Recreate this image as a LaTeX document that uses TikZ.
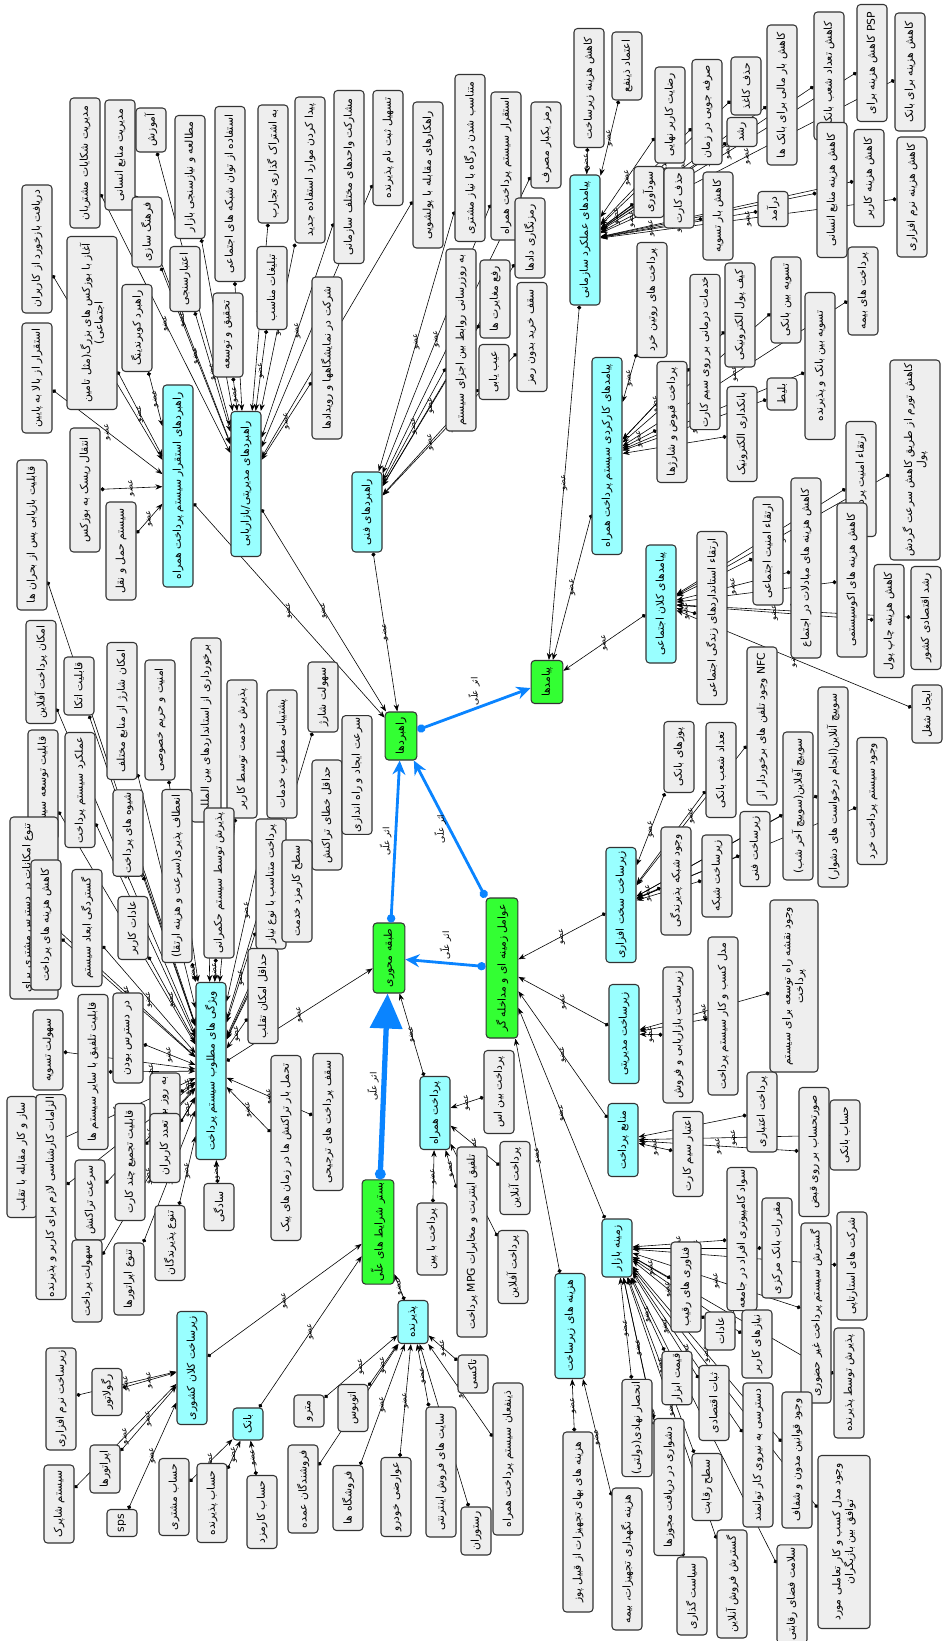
\documentclass[tikz,border=0pt]{standalone}
\usepackage{fontspec}
\newfontfamily\fafont[Script=Arabic]{DejaVu Sans}
\TeXXeTstate=1
\usetikzlibrary{arrows.meta}
\definecolor{boxgray}{HTML}{EEEEEE}
\definecolor{catcyan}{HTML}{99FFFF}
\definecolor{coregreen}{HTML}{33FF33}
\definecolor{causeblue}{HTML}{0A84FF}
\pgfdeclarelayer{bg}
\pgfsetlayers{bg,main}
\newcommand{\fa}[1]{\beginR #1\endR}
\newcommand{\ozv}{\fa{عضو}}
\newcommand{\asar}{\fa{اثر علّی}}
\tikzset{
  base/.style={rotate=90, draw=black!80, line width=0.9pt, rounded corners=3pt,
    font=\fafont\fontsize{9.2}{11}\selectfont, inner sep=2pt, minimum height=0.9cm, align=center},
  gry/.style={base, fill=boxgray},
  cyn/.style={base, fill=catcyan},
  grn/.style={base, fill=coregreen, minimum height=0.95cm},
  bl/.style={minimum width=#1*0.03cm},
  bh/.style={minimum height=#1*0.03cm},
  mem/.style={draw=black, line width=0.5pt, {Circle[length=3.5pt]}-{Stealth[length=6pt,width=4.5pt]}},
  lab/.style={font=\fafont\fontsize{7}{8}\selectfont, rotate=90, inner sep=0.5pt},
  cause/.style={draw=causeblue, line width=2.4pt, {Circle[length=7pt]}-{Stealth[length=12pt,width=11pt]}},
  bigcause/.style={draw=causeblue, line width=4.5pt, {Circle[length=9pt]}-{Triangle[length=1.05cm,width=0.95cm]}},
  clab/.style={font=\fafont\fontsize{7.5}{8}\selectfont, rotate=90, inner sep=2pt},
}
\begin{document}
\begin{tikzpicture}[x=0.03cm, y=-0.03cm]
  \useasboundingbox (0,0) rectangle (943,1641);

  % core categories
  \node[grn, bl=43] (outcomes) at (547,682) {\fa{پیامدها}};
  \node[grn, bl=48] (strategies) at (401,736) {\fa{راهبردها}};
  \node[grn, bl=70] (core) at (389,958) {\fa{طبقه محوری}};
  \node[grn, bl=140] (context) at (502,968) {\fa{عوامل زمینه ای و مداخله گر}};
  \node[grn, bl=101] (causal) at (378,1232) {\fa{بستر شرایط های علّی}};

  % sub categories
  \node[cyn, bl=130] (pOrg) at (585,240) {\fa{پیامدهای عملکرد سازمانی}};
  \node[cyn, bl=197] (pFun) at (607,456) {\fa{پیامدهای کارکردی سیستم پرداخت همراه}};
  \node[cyn, bl=118] (pSoc) at (661,604) {\fa{پیامدهای کلان اجتماعی}};
  \node[cyn, bl=80] (sTec) at (367,512) {\fa{راهبردهای فنی}};
  \node[cyn, bl=145] (sMng) at (246,484) {\fa{راهبردهای مدیریتی/بازاریابی}};
  \node[cyn, bl=202] (sDep) at (178,486) {\fa{راهبردهای استقرار سیستم پرداخت همراه}};
  \node[cyn, bl=177] (feat) at (211,1071) {\fa{ویژگی های مطلوب سیستم پرداخت}};
  \node[cyn, bl=73] (mob) at (435,1113) {\fa{پرداخت همراه}};
  \node[cyn, bl=43] (acc) at (413,1322) {\fa{پذیرنده}};
  \node[cyn, bl=113] (nat) at (192,1368) {\fa{زیرساخت کلان کشوری}};
  \node[cyn, bl=32] (bank) at (248,1424) {\fa{بانک}};
  \node[cyn, bl=105] (cost) at (570,1326) {\fa{هزینه های زیرساخت}};
  \node[cyn, bl=58] (mkt) at (617,1248) {\fa{زمینه بازار}};
  \node[cyn, bl=73] (src) at (623,1140) {\fa{منابع پرداخت}};
  \node[cyn, bl=99] (adm) at (624,1034) {\fa{زیرساخت مدیریتی}};
  \node[cyn, bl=115] (hw) at (621,905) {\fa{زیرساخت سخت افزاری}};

  % organisational outcomes
  \node[gry, bl=119] (org1) at (589,88) {\fa{کاهش هزینه زیرساخت}};
  \node[gry, bl=68] (org2) at (627,66) {\fa{اعتماد ذینفع}};
  \node[gry, bl=96] (org3) at (670,115) {\fa{رضایت کاربر نهایی}};
  \node[gry, bl=105] (org4) at (707,112) {\fa{صرفه جویی در زمان}};
  \node[gry, bl=58] (org5) at (746,86) {\fa{حذف کاغذ}};
  \node[gry, bl=29] (org6) at (742,132) {\fa{رشد}};
  \node[gry, bl=140] (org7) at (782,95) {\fa{کاهش بار مالی برای بانک ها}};
  \node[gry, bl=128] (org8) at (829,76) {\fa{کاهش تعداد شعب بانکی}};
  \node[gry, bl=117] (org9) at (872,63) {\fa{\beginL PSP\endL{} کاهش هزینه برای}};
  \node[gry, bl=118] (org10) at (910,72) {\fa{کاهش هزینه برای بانک}};
  \node[gry, bl=51] (org11) at (649,192) {\fa{سودآوری}};
  \node[gry, bl=60] (org12) at (679,198) {\fa{حذف کارت}};
  \node[gry, bl=88] (org13) at (718,216) {\fa{کاهش بار تسویه}};
  \node[gry, bl=35] (org14) at (773,209) {\fa{درآمد}};
  \node[gry, bl=135] (org15) at (832,190) {\fa{کاهش هزینه منابع انسانی}};
  \node[gry, bl=97] (org16) at (869,178) {\fa{کاهش هزینه کاربر}};
  \node[gry, bl=120] (org17) at (912,197) {\fa{کاهش هزینه نرم افزاری}};

  % functional outcomes
  \node[gry, bl=115] (fun1) at (652,300) {\fa{پرداخت های روتین خرد}};
  \node[gry, bl=155] (fun2) at (705,352) {\fa{خدمات درمانی بر روی سیم کارت}};
  \node[gry, bl=104] (fun3) at (740,315) {\fa{کیف پول الکترونیکی}};
  \node[gry, bl=86] (fun4) at (786,300) {\fa{تسویه بین بانکی}};
  \node[gry, bl=147] (fun5) at (820,366) {\fa{تسویه بین بانک و پذیرنده}};
  \node[gry, bl=88] (fun6) at (863,291) {\fa{پرداخت های بیمه}};
  \node[gry, bl=121] (fun7) at (672,422) {\fa{پرداخت قبوض و شارژها}};
  \node[gry, bl=95] (fun8) at (742,434) {\fa{بانکداری الکترونیک}};
  \node[gry, bl=32] (fun9) at (782,394) {\fa{بلیط}};

  % social outcomes
  \node[gry, bl=173] (soc1) at (712,618) {\fa{ارتقاء استانداردهای زندگی اجتماعی}};
  \node[gry, bl=108] (soc2) at (768,551) {\fa{ارتقاء امنیت اجتماعی}};
  \node[gry, bl=115] (soc4) at (861,479) {\fa{ارتقاء امنیت پرداخت}};
  \node[gry, bl=180] (soc3) at (806,568) {\fa{کاهش هزینه های مبادلات در اجتماع}};
  \node[gry, bl=154] (soc5) at (852,580) {\fa{کاهش هزینه های اکوسیستمی}};
  \node[gry, bl=113] (soc6) at (889,621) {\fa{کاهش هزینه چاپ پول}};
  \node[gry, bl=103] (soc7) at (926,618) {\fa{رشد اقتصادی کشور}};
  \node[gry, bl=58] (soc8) at (927,714) {\fa{ایجاد شغل}};
  \node[gry, bl=200, bh=50] (soc9) at (915,460) {\fa{کاهش تورم از طریق کاهش سرعت گردش}\\\fa{پول}};

  % technical strategies
  \node[gry, bl=167] (tec1) at (470,158) {\fa{متناسب شدن درگاه با نیاز مشتری}};
  \node[gry, bl=148] (tec2) at (506,166) {\fa{استقرار سیستم پرداخت همراه}};
  \node[gry, bl=86] (tec3) at (546,145) {\fa{رمز یکبار مصرف}};
  \node[gry, bl=80] (tec4) at (530,238) {\fa{رمزنگاری دادها}};
  \node[gry, bl=78] (tec5) at (495,299) {\fa{رفع مغایرت ها}};
  \node[gry, bl=109] (tec6) at (532,337) {\fa{سقف خرید بدون رمز}};
  \node[gry, bl=55] (tec7) at (494,372) {\fa{عیب یابی}};
  \node[gry, bl=182] (tec8) at (461,340) {\fa{به روزرسانی روابط بین اجزای سیستم}};

  % management strategies
  \node[gry, bl=130] (mng1) at (85,163) {\fa{مدیریت شکایات مشتریان}};
  \node[gry, bl=110] (mng2) at (120,155) {\fa{مدیریت منابع انسانی}};
  \node[gry, bl=44] (mng3) at (151,130) {\fa{آموزش}};
  \node[gry, bl=123] (mng4) at (190,177) {\fa{مطالعه و نیازسنجی بازار}};
  \node[gry, bl=175] (mng5) at (230,194) {\fa{استفاده از توان شبکه های اجتماعی}};
  \node[gry, bl=118] (mng6) at (273,164) {\fa{به اشتراک گذاری تجارب}};
  \node[gry, bl=146] (mng7) at (310,170) {\fa{پیدا کردن موارد استفاده جدید}};
  \node[gry, bl=70] (mng8) at (147,232) {\fa{فرهنگ سازی}};
  \node[gry, bl=65] (mng9) at (185,279) {\fa{اعتبارسنجی}};
  \node[gry, bl=84] (mng10) at (228,335) {\fa{تحقیق و توسعه}};
  \node[gry, bl=83] (mng11) at (272,288) {\fa{تبلیغات مناسب}};
  \node[gry, bl=162] (mng12) at (327,358) {\fa{شرکت در نمایشگاهها و رویدادها}};
  \node[gry, bl=173] (mng13) at (349,177) {\fa{مشارکت واحدهای مختلف سازمانی}};
  \node[gry, bl=115] (mng14) at (388,148) {\fa{تسهیل ثبت نام پذیرنده}};
  \node[gry, bl=146] (mng15) at (428,175) {\fa{راهکارهای مقابله با پولشویی}};

  % deployment strategies
  \node[gry, bl=128] (dep1) at (37,249) {\fa{دریافت بازخورد از کاربران}};
  \node[gry, bl=110] (dep2) at (37,378) {\fa{استقرار از بالا به پایین}};
  \node[gry, bl=87] (dep3) at (137,328) {\fa{راهبرد کوبرندینگ}};
  \node[gry, bl=173, bh=50] (dep4) at (92,323) {\fa{آغاز با بوزکس های بزرگ(مثل تامین}\\\fa{اجتماعی)}};
  \node[gry, bl=124] (dep5) at (85,490) {\fa{انتقال ریسک به بوزکس}};
  \node[gry, bl=98] (dep6) at (121,551) {\fa{سیستم حمل و نقل}};

  % desired features
  \node[gry, bl=150] (feat1) at (32,535) {\fa{قابلیت بازیابی پس از بحران ها}};
  \node[gry, bl=103] (feat2) at (41,672) {\fa{امکان پرداخت آفلاین}};
  \node[gry, bl=58] (feat3) at (79,686) {\fa{قابلیت اتکا}};
  \node[gry, bl=137] (feat4) at (122,711) {\fa{امکان شارژ از منابع مختلف}};
  \node[gry, bl=120] (feat5) at (160,720) {\fa{امنیت و حریم خصوصی}};
  \node[gry, bl=184] (feat6) at (206,730) {\fa{برخورداری از استانداردهای بین المللی}};
  \node[gry, bl=138] (feat7) at (242,749) {\fa{پذیرش خدمت توسط کاربر}};
  \node[gry, bl=128] (feat8) at (282,754) {\fa{پشتیبانی مطلوب خدمات}};
  \node[gry, bl=70] (feat9) at (323,697) {\fa{سهولت شارژ}};
  \node[gry, bl=110] (feat11) at (327,815) {\fa{حداقل خطای تراکنش}};
  \node[gry, bl=110] (feat10) at (357,775) {\fa{سرعت ایجاد و راه اندازی}};
  \node[gry, bl=110] (feat12) at (43,785) {\fa{قابلیت توسعه سیستم}};
  \node[gry, bl=115] (feat13) at (80,790) {\fa{عملکرد سیستم پرداخت}};
  \node[gry, bl=83] (feat14) at (128,833) {\fa{شیوه های پرداخت}};
  \node[gry, bl=173] (feat15) at (177,876) {\fa{انعطاف پذیری(سرعت و هزینه ارتقا)}};
  \node[gry, bl=150] (feat16) at (219,883) {\fa{پذیرش توسط سیستم حکمرانی}};
  \node[gry, bl=130] (feat17) at (271,884) {\fa{پرداخت متناسب با نوع نیاز}};
  \node[gry, bl=102] (feat18) at (297,891) {\fa{سطح کارمزد خدمت}};
  \node[gry, bl=95] (feat19) at (263,996) {\fa{حداقل امکان تقلب}};
  \node[gry, bl=182, bh=48] (feat20) at (34,908) {\fa{تنوع امکانات در دسترس مشتری برای}\\\fa{پرداخت}};
  \node[gry, bl=130] (feat21) at (46,925) {\fa{کاهش هزینه های پرداخت}};
  \node[gry, bl=117] (feat22) at (87,928) {\fa{گستردگی ابعاد سیستم}};
  \node[gry, bl=63] (feat23) at (133,928) {\fa{عادات کاربر}};
  \node[gry, bl=80] (feat24) at (48,1050) {\fa{سهولت تسویه}};
  \node[gry, bl=155] (feat25) at (93,1072) {\fa{قابلیت تلفیق با سایر سیستم ها}};
  \node[gry, bl=90] (feat26) at (128,1038) {\fa{در دسترس بودن}};
  \node[gry, bl=121] (feat27) at (22,1157) {\fa{ساز و کار مقابله با تقلب}};
  \node[gry, bl=180] (feat28) at (51,1197) {\fa{الزامات کارشناسی لازم برای کاربر و پذیرنده}};
  \node[gry, bl=80] (feat29) at (90,1200) {\fa{سرعت تراکنش}};
  \node[gry, bl=117] (feat30) at (130,1162) {\fa{قابلیت تجمیع چند کارت}};
  \node[gry, bl=60] (feat31) at (165,1103) {\fa{به روز بودن}};
  \node[gry, bl=69] (feat32) at (165,1148) {\fa{تعدد کاربران}};
  \node[gry, bl=47] (feat33) at (219,1207) {\fa{سادگی}};
  \node[gry, bl=185] (feat34) at (286,1148) {\fa{تحمل بار تراکنش ها در زمان های پیک}};
  \node[gry, bl=137] (feat35) at (328,1122) {\fa{سقف پرداخت های ترجیحی}};
  \node[gry, bl=82] (feat36) at (87,1281) {\fa{سهولت پرداخت}};
  \node[gry, bl=72] (feat37) at (129,1279) {\fa{تنوع اپراتورها}};
  \node[gry, bl=75] (feat38) at (170,1243) {\fa{تنوع پذیرندگان}};

  % mobile payment
  \node[gry, bl=83] (mob1) at (499,1092) {\fa{پرداخت بین اس}};
  \node[gry, bl=190] (mob2) at (472,1242) {\fa{تلفیق اینترنت و مخابرات \beginL MPG\endL{} پرداخت}};
  \node[gry, bl=73] (mob3) at (515,1178) {\fa{پرداخت آنلاین}};
  \node[gry, bl=72] (mob4) at (432,1239) {\fa{پرداخت با پین}};
  \node[gry, bl=73] (mob5) at (513,1267) {\fa{پرداخت آفلاین}};

  % acceptors
  \node[gry, bl=32] (acc1) at (309,1411) {\fa{مترو}};
  \node[gry, bl=47] (acc2) at (353,1408) {\fa{اتوبوس}};
  \node[gry, bl=88] (acc3) at (303,1489) {\fa{فروشندگان عمده}};
  \node[gry, bl=65] (acc4) at (348,1498) {\fa{فروشگاه ها}};
  \node[gry, bl=79] (acc5) at (396,1497) {\fa{عوارضی خودرو}};
  \node[gry, bl=130] (acc6) at (441,1472) {\fa{سایت های فروش اینترنتی}};
  \node[gry, bl=48] (acc7) at (476,1531) {\fa{رستوران}};
  \node[gry, bl=152] (acc8) at (508,1459) {\fa{ذینفعان سیستم پرداخت همراه}};
  \node[gry, bl=38] (acc9) at (473,1374) {\fa{تاکسی}};

  % national infrastructure
  \node[gry, bl=47] (nat1) at (107,1392) {\fa{رگولاتور}};
  \node[gry, bl=102] (nat2) at (61,1399) {\fa{زیرساخت نرم افزاری}};
  \node[gry, bl=48] (nat3) at (105,1469) {\fa{اپراتورها}};
  \node[gry, bl=78] (nat4) at (59,1504) {\fa{سیستم شاپرک}};
  \node[gry, bl=27] (nat5) at (122,1523) {sps};

  % bank
  \node[gry, bl=77] (bank1) at (174,1497) {\fa{حساب مشتری}};
  \node[gry, bl=79] (bank2) at (212,1503) {\fa{حساب پذیرنده}};
  \node[gry, bl=73] (bank3) at (262,1512) {\fa{حساب کارمزد}};

  % infrastructure costs
  \node[gry, bl=180] (cost1) at (578,1522) {\fa{هزینه های بهای تجهیزات از قبیل پوز}};
  \node[gry, bl=142] (cost2) at (627,1559) {\fa{هزینه نگهداری تجهیزات، بیمه}};

  % market context
  \node[gry, bl=138] (mkt1) at (742,1239) {\fa{سواد کامپیوتری افراد در جامعه}};
  \node[gry, bl=100] (mkt2) at (777,1248) {\fa{مقررات بانک مرکزی}};
  \node[gry, bl=180] (mkt3) at (816,1313) {\fa{گسترش سیستم پرداخت غیر حضوری}};
  \node[gry, bl=108] (mkt4) at (852,1266) {\fa{شرکت های استارتاپی}};
  \node[gry, bl=90] (mkt5) at (686,1287) {\fa{فناوری های رقیب}};
  \node[gry, bl=38] (mkt6) at (720,1331) {\fa{عادات}};
  \node[gry, bl=68] (mkt7) at (757,1344) {\fa{نیازهای کاربر}};
  \node[gry, bl=110] (mkt8) at (849,1383) {\fa{پذیرش توسط پذیرنده}};
  \node[gry, bl=51] (mkt9) at (677,1378) {\fa{قیمت ابزار}};
  \node[gry, bl=75] (mkt10) at (714,1403) {\fa{ثبات اقتصادی}};
  \node[gry, bl=144] (mkt11) at (758,1455) {\fa{دسترسی به نیروی کار توانمند}};
  \node[gry, bl=136] (mkt12) at (797,1460) {\fa{وجود قوانین مدون و شفاف}};
  \node[gry, bl=173, bh=52] (mkt13) at (844,1542) {\fa{وجود مدل کسب و کار تعاملی مورد}\\\fa{توافق بین بازیگران}};
  \node[gry, bl=97] (mkt14) at (637,1428) {\fa{انحصار نهادی(دولتی)}};
  \node[gry, bl=137] (mkt15) at (669,1487) {\fa{دشواری در دریافت مجوزها}};
  \node[gry, bl=67] (mkt16) at (707,1487) {\fa{سطح رقابت}};
  \node[gry, bl=78] (mkt17) at (692,1596) {\fa{سیاست گذاری}};
  \node[gry, bl=108] (mkt18) at (732,1584) {\fa{گسترش فروش آنلاین}};
  \node[gry, bl=97] (mkt19) at (792,1594) {\fa{سلامت فضای رقابتی}};

  % payment sources
  \node[gry, bl=85] (src1) at (688,1154) {\fa{اعتبار سیم کارت}};
  \node[gry, bl=80] (src2) at (762,1112) {\fa{پرداخت اعتباری}};
  \node[gry, bl=129] (src3) at (814,1152) {\fa{صورتحساب بر روی قبض}};
  \node[gry, bl=70] (src4) at (845,1135) {\fa{حساب بانکی}};

  % management infrastructure
  \node[gry, bl=136] (adm1) at (678,1035) {\fa{زیرساخت بازاریابی و فروش}};
  \node[gry, bl=158] (adm2) at (723,1016) {\fa{مدل کسب و کار سیستم پرداخت}};
  \node[gry, bl=172, bh=48] (adm3) at (794,986) {\fa{وجود نقشه راه توسعه برای سیستم}\\\fa{پرداخت}};

  % hardware infrastructure
  \node[gry, bl=108] (hw1) at (676,881) {\fa{وجود شبکه پذیرندگی}};
  \node[gry, bl=82] (hw2) at (717,876) {\fa{زیرساخت شبکه}};
  \node[gry, bl=75] (hw3) at (755,849) {\fa{زیرساخت فنی}};
  \node[gry, bl=71] (hw4) at (679,757) {\fa{پوزهای بانکی}};
  \node[gry, bl=95] (hw5) at (721,770) {\fa{تعداد شعب بانکی}};
  \node[gry, bl=158] (hw6) at (762,726) {\fa{\beginL NFC\endL{} وجود تلفن های برخوردار از}};
  \node[gry, bl=148] (hw7) at (798,806) {\fa{سوییچ آفلاین(سوییچ آخر شب)}};
  \node[gry, bl=200] (hw8) at (833,787) {\fa{سوییچ آنلاین(انجام درخواست های دشوار)}};
  \node[gry, bl=127] (hw9) at (872,801) {\fa{وجود سیستم پرداخت خرد}};

  \begin{pgfonlayer}{bg}
    \foreach \n in {1,...,17} \draw[mem] (org\n) -- node[lab]{\ozv} (pOrg);
    \foreach \n in {1,...,9} \draw[mem] (fun\n) -- node[lab]{\ozv} (pFun);
    \foreach \n in {1,...,9} \draw[mem] (soc\n) -- node[lab]{\ozv} (pSoc);
    \foreach \n in {1,...,8} \draw[mem] (tec\n) -- node[lab]{\ozv} (sTec);
    \foreach \n in {1,...,15} \draw[mem] (mng\n) -- node[lab]{\ozv} (sMng);
    \foreach \n in {1,...,6} \draw[mem] (dep\n) -- node[lab]{\ozv} (sDep);
    \foreach \n in {1,...,38} \draw[mem] (feat\n) -- node[lab]{\ozv} (feat);
    \foreach \n in {1,...,5} \draw[mem] (mob\n) -- node[lab]{\ozv} (mob);
    \foreach \n in {1,...,9} \draw[mem] (acc\n) -- node[lab]{\ozv} (acc);
    \foreach \n in {1,...,5} \draw[mem] (nat\n) -- node[lab]{\ozv} (nat);
    \foreach \n in {1,...,3} \draw[mem] (bank\n) -- node[lab]{\ozv} (bank);
    \foreach \n in {1,2} \draw[mem] (cost\n) -- node[lab]{\ozv} (cost);
    \foreach \n in {1,...,19} \draw[mem] (mkt\n) -- node[lab]{\ozv} (mkt);
    \foreach \n in {1,...,4} \draw[mem] (src\n) -- node[lab]{\ozv} (src);
    \foreach \n in {1,...,3} \draw[mem] (adm\n) -- node[lab]{\ozv} (adm);
    \foreach \n in {1,...,9} \draw[mem] (hw\n) -- node[lab]{\ozv} (hw);

    % sub categories to core categories
    \foreach \s in {pOrg,pFun,pSoc} \draw[mem] (\s) -- node[lab]{\ozv} (outcomes);
    \foreach \s in {sTec,sMng,sDep} \draw[mem] (\s) -- node[lab]{\ozv} (strategies);
    \foreach \s in {feat,mob} \draw[mem] (\s) -- node[lab]{\ozv} (core);
    \foreach \s in {acc,nat,bank} \draw[mem] (\s) -- node[lab]{\ozv} (causal);
    \foreach \s in {cost,mkt,src,adm,hw} \draw[mem] (\s) -- node[lab]{\ozv} (context);
  \end{pgfonlayer}

  % causal links
  \draw[cause] (strategies) -- node[clab, anchor=west]{\asar} (outcomes);
  \draw[cause] (core) -- node[clab, anchor=south]{\asar} (strategies);
  \draw[cause] (context.north east) -- node[clab, anchor=south]{\asar} (strategies);
  \draw[cause] (context) -- node[clab, anchor=west]{\asar} (core);
  \draw[bigcause] (causal) -- node[clab, anchor=south]{\asar} (core);
\end{tikzpicture}
\end{document}
